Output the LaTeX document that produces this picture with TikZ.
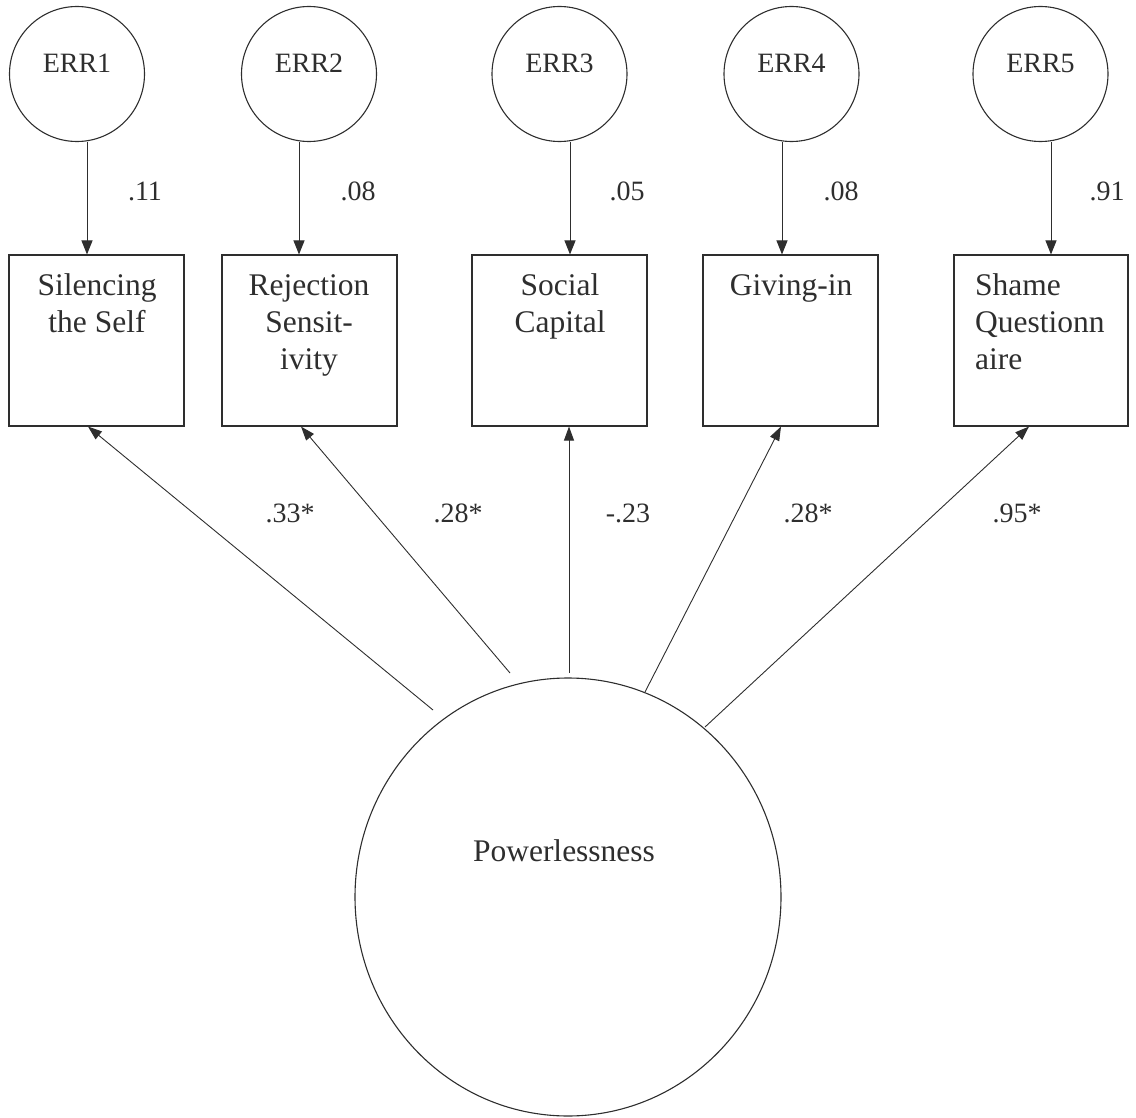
\documentclass[tikz,border=0pt]{standalone}
\usepackage{fontspec}
\setmainfont{Liberation Serif}
\usetikzlibrary{arrows.meta,shapes.geometric}
\definecolor{ink}{gray}{0.18}
\begin{document}
\begin{tikzpicture}[x=1pt,y=-1pt,
  every node/.style={text=ink},
  errc/.style={circle,draw=ink,line width=1.1pt,minimum size=135pt,inner sep=0pt},
  obs/.style={rectangle,draw=ink,line width=1.1pt,minimum width=175pt,minimum height=171pt,inner sep=0pt},
  lat/.style={ellipse,draw=ink,line width=1.1pt,minimum width=426pt,minimum height=438pt,inner sep=0pt},
  bigtxt/.style={font=\fontsize{31.5}{37}\selectfont,inner sep=0pt,anchor=base},
  smtxt/.style={font=\fontsize{28}{33}\selectfont,inner sep=0pt,anchor=base},
  arr/.style={draw=ink,line width=1pt,-{Triangle[length=14pt,width=11pt]}},
  lnk/.style={draw=ink,line width=0.9pt,-{Triangle[length=14pt,width=10pt]}},
]
\useasboundingbox (0,0) rectangle (1136,1118);

% error terms
\node[errc] (e1) at (77,74) {};
\node[errc] (e2) at (309,74) {};
\node[errc] (e3) at (559.5,74) {};
\node[errc] (e4) at (791.5,74) {};
\node[errc] (e5) at (1040.5,74) {};
\node[smtxt] (e1t) at (77,73) {ERR1};
\node[smtxt] (e2t) at (309,73) {ERR2};
\node[smtxt] (e3t) at (559.5,73) {ERR3};
\node[smtxt] (e4t) at (791.5,73) {ERR4};
\node[smtxt] (e5t) at (1040.5,73) {ERR5};

% observed variables
\node[obs] (s1) at (96.5,340.5) {};
\node[obs] (s2) at (309.5,340.5) {};
\node[obs] (s3) at (559.5,340.5) {};
\node[obs] (s4) at (790.5,340.5) {};
\node[obs, minimum width=174pt] (s5) at (1041,340.5) {};
\node[bigtxt] (s1t) at (97,296) {\begin{tabular}[t]{@{}c@{}}Silencing\\the Self\end{tabular}};
\node[bigtxt] (s2t) at (309,296) {\begin{tabular}[t]{@{}c@{}}Rejection\\Sensit-\\ivity\end{tabular}};
\node[bigtxt] (s3t) at (560,296) {\begin{tabular}[t]{@{}c@{}}Social\\Capital\end{tabular}};
\node[bigtxt] (s4t) at (791,296) {Giving-in};
\node[bigtxt, anchor=base west] (s5t) at (975,296) {\begin{tabular}[t]{@{}l@{}}Shame\\Questionn\\aire\end{tabular}};

% latent variable
\node[lat] (pw) at (568,897) {};
\node[bigtxt] (pwt) at (564,861) {Powerlessness};

% error arrows
\coordinate (x1) at (87,0);
\coordinate (x2) at (299,0);
\coordinate (x3) at (570,0);
\coordinate (x4) at (782,0);
\coordinate (x5) at (1051,0);
\draw[arr] (e1.south -| x1) -- (x1 |- s1.north);
\draw[arr] (e2.south -| x2) -- (x2 |- s2.north);
\draw[arr] (e3.south -| x3) -- (x3 |- s3.north);
\draw[arr] (e4.south -| x4) -- (x4 |- s4.north);
\draw[arr] (e5.south -| x5) -- (x5 |- s5.north);
\node[smtxt] (l1) at (145,201) {.11};
\node[smtxt] (l2) at (358,201) {.08};
\node[smtxt] (l3) at (627,201) {.05};
\node[smtxt] (l4) at (841,201) {.08};
\node[smtxt] (l5) at (1107,201) {.91};

% loadings
\coordinate (p1) at (433,710);
\coordinate (p2) at (510,673);
\coordinate (p3) at (569,673);
\coordinate (p4) at (645,692);
\coordinate (p5) at (705,727);
\coordinate (t1) at (88,0);
\coordinate (t2) at (301,0);
\coordinate (t3) at (569,0);
\coordinate (t4) at (781,0);
\coordinate (t5) at (1029,0);
\draw[lnk] (p1) -- (s1.south -| t1);
\draw[lnk] (p2) -- (s2.south -| t2);
\draw[lnk] (p3) -- (s3.south -| t3);
\draw[lnk] (p4) -- (s4.south -| t4);
\draw[lnk] (p5) -- (s5.south -| t5);
\node[smtxt] (g1) at (290,522) {.33*};
\node[smtxt] (g2) at (458,522) {.28*};
\node[smtxt] (g3) at (628,522) {-.23};
\node[smtxt] (g4) at (808,522) {.28*};
\node[smtxt] (g5) at (1017,522) {.95*};
\end{tikzpicture}
\end{document}
